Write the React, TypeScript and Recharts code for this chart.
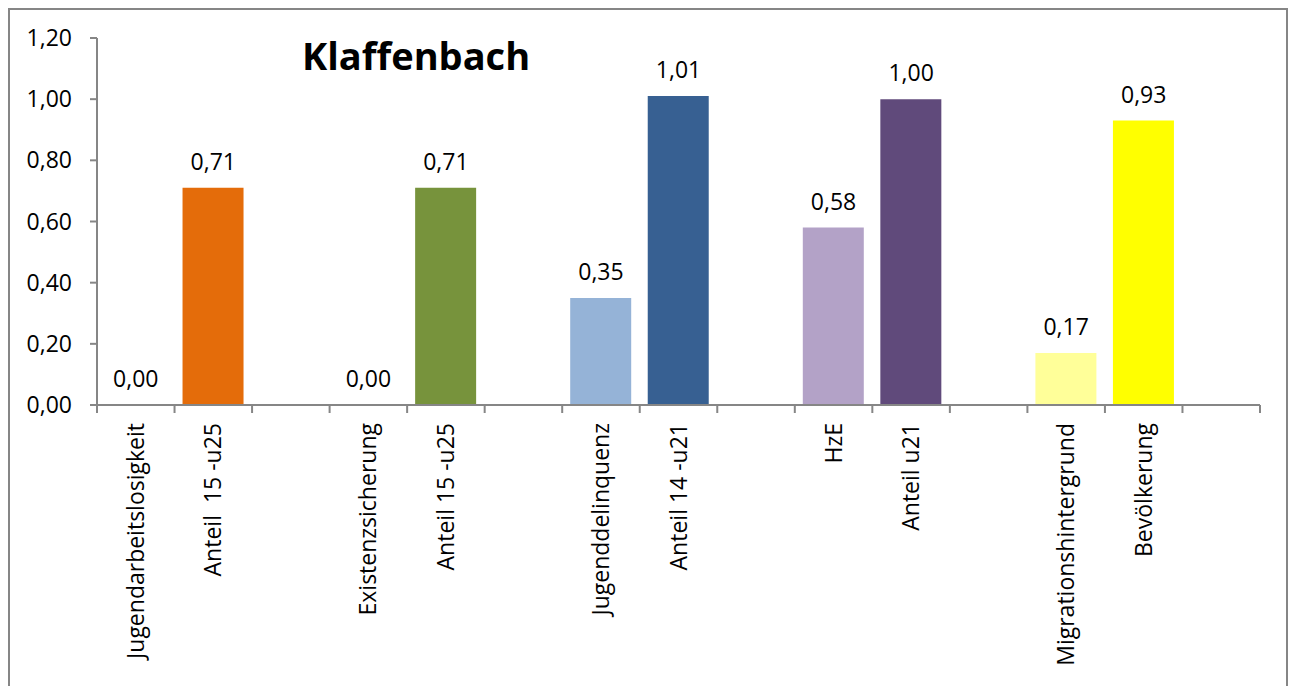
import { ComposedChart, Bar, Line, XAxis, YAxis, Cell, LabelList } from 'recharts';

const categories = [
  'Jugendarbeitslosigkeit', 'Anteil  15 -u25', '',
  'Existenzsicherung', 'Anteil 15 -u25', '',
  'Jugenddelinquenz', 'Anteil 14 -u21', '',
  'HzE', 'Anteil u21', '',
  'Migrationshintergrund', 'Bevölkerung', '',
];
const values = [0, 0.71, null, 0, 0.71, null, 0.35, 1.01, null, 0.58, 1.0, null, 0.17, 0.93, null];
const barColors = [
  '#E46C0A', '#E46C0A', '#FFFFFF',
  '#77933C', '#77933C', '#FFFFFF',
  '#95B3D7', '#376092', '#FFFFFF',
  '#B3A2C7', '#604A7B', '#FFFFFF',
  '#FFFF99', '#FFFF00', '#FFFFFF',
];
const yTicks = [0, 0.2, 0.4, 0.6, 0.8, 1.0, 1.2];

const data = categories.map((name, i) => ({ key: `c${i}`, name, value: values[i] }));

const AXIS = '#868686';
const FONT = '"Open Sans", sans-serif';
const fmt = (v: number | null | undefined) =>
  v == null ? '' : Number(v).toFixed(2).replace('.', ',');

function CategoryTick(props: any) {
  const { x, y, payload, index } = props;
  const half = payload?.offset ?? 38.8;
  const last = index === categories.length - 1;
  return (
    <g>
      <line x1={x - half} x2={x - half} y1={y - 8} y2={y} stroke={AXIS} strokeWidth={2} />
      {last && <line x1={x + half} x2={x + half} y1={y - 8} y2={y} stroke={AXIS} strokeWidth={2} />}
      <text
        transform={`translate(${x},${y}) rotate(-90)`}
        x={-10}
        dy="0.35em"
        textAnchor="end"
        fill="#000"
        fontSize={23}
        fontFamily={FONT}
        style={{ whiteSpace: 'pre' }}
      >
        {categories[index]}
      </text>
    </g>
  );
}

export default function App() {
  return (
    <div style={{ position: 'relative', width: 1293, height: 686, overflow: 'hidden', background: '#fff' }}>
      <style>{'body{margin:0;overflow:hidden}'}</style>
      <div
        style={{
          position: 'absolute', left: 8, top: 8, width: 1280, height: 700,
          border: `2px solid ${AXIS}`, boxSizing: 'border-box',
        }}
      >
        <ComposedChart
          width={1276}
          height={680}
          data={data}
          margin={{ top: 28, right: 26, left: 0, bottom: 0 }}
          barSize={61}
        >
          <XAxis
            dataKey="key"
            interval={0}
            height={285}
            tickLine={false}
            tickSize={8}
            tickMargin={0}
            axisLine={{ stroke: AXIS, strokeWidth: 2 }}
            tick={<CategoryTick />}
          />
          <YAxis
            width={87}
            domain={[0, 1.2]}
            ticks={yTicks}
            interval={0}
            tickFormatter={fmt}
            tickSize={7}
            tickMargin={18}
            axisLine={{ stroke: AXIS, strokeWidth: 2 }}
            tickLine={{ stroke: AXIS, strokeWidth: 2 }}
            tick={{ fill: '#000', fontSize: 23, fontFamily: FONT }}
          />
          <Bar dataKey="value" isAnimationActive={false}>
            {data.map((d, i) => (
              <Cell key={d.key} fill={barColors[i]} />
            ))}
          </Bar>
          {/* invisible series carrying the value labels, so zero values get one too */}
          <Line
            dataKey="value"
            stroke="none"
            dot={false}
            activeDot={false}
            connectNulls={false}
            isAnimationActive={false}
          >
            <LabelList
              dataKey="value"
              position="top"
              offset={18}
              formatter={fmt}
              fill="#000"
              fontSize={23}
              fontFamily={FONT}
            />
          </Line>
        </ComposedChart>
        <div
          style={{
            position: 'absolute', left: 292, top: 26, fontFamily: FONT, fontWeight: 700,
            fontSize: 38, lineHeight: 1, color: '#000', whiteSpace: 'nowrap',
          }}
        >
          Klaffenbach
        </div>
      </div>
    </div>
  );
}
